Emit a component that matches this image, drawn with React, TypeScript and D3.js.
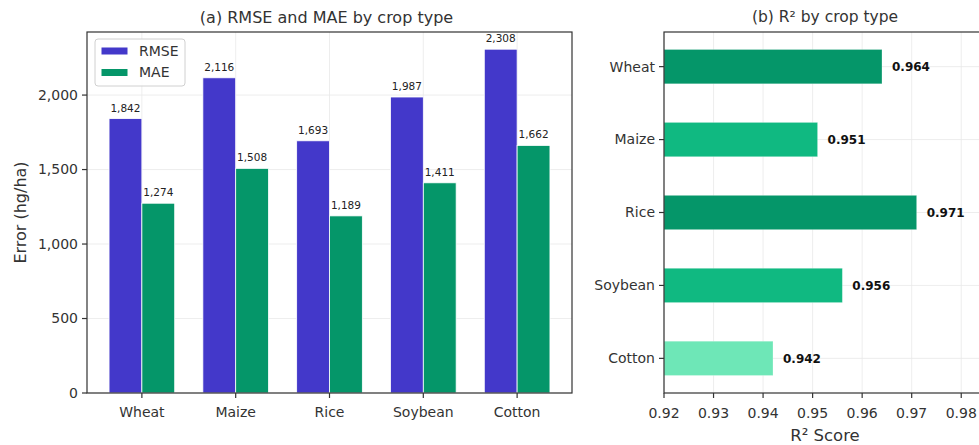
import React from "react";
import * as d3 from "d3";

const crops = ["Wheat", "Maize", "Rice", "Soybean", "Cotton"];
const rmse = [1842, 2116, 1693, 1987, 2308];
const mae = [1274, 1508, 1189, 1411, 1662];
const r2 = [0.964, 0.951, 0.971, 0.956, 0.942];
const r2Colors = ["#059669", "#10b981", "#059669", "#10b981", "#6ee7b7"];
const yTicksLeft = [0, 500, 1000, 1500, 2000];
const xTicksRight = [0.92, 0.93, 0.94, 0.95, 0.96, 0.97, 0.98];

const FONT = "'DejaVu Sans', sans-serif";
const RMSE_C = "#4338ca";
const MAE_C = "#059669";
const GRID = "#e8e8e8";
const SPINE = "#333333";

export default function App() {
  const W = 979, H = 445;
  // left panel
  const L = { x0: 87, x1: 572, y0: 32, y1: 393 };
  const xL = d3.scaleLinear().domain([-0.585, 4.585]).range([L.x0, L.x1]);
  const yL = d3.scaleLinear().domain([0, 2423.4]).range([L.y1, L.y0]);
  const bw = 0.35;
  const fmt = d3.format(",");

  // right panel
  const R = { x0: 664, x1: 986, y0: 32, y1: 393 };
  const xR = d3.scaleLinear().domain([0.92, 0.985]).range([R.x0, R.x1]);
  const yR = d3.scaleLinear().domain([-0.475, 4.475]).range([R.y0, R.y1]);
  const bh = 0.47;

  return (
    <svg width={W} height={H} style={{ position: "absolute", left: 0, top: 0, background: "#fff" }} fontFamily={FONT}>
      <rect x={0} y={0} width={W} height={H} fill="#fff" />
      {/* ===== Left panel ===== */}
      <g>
        {yTicksLeft.map((t) => (
          <line key={"gy" + t} x1={L.x0} x2={L.x1} y1={yL(t)} y2={yL(t)} stroke={GRID} strokeWidth={0.8} />
        ))}
        {crops.map((c, i) => (
          <line key={"gx" + c} x1={xL(i)} x2={xL(i)} y1={L.y0} y2={L.y1} stroke={GRID} strokeWidth={0.8} />
        ))}
        {crops.map((c, i) => (
          <g key={"b" + c}>
            <rect x={xL(i - bw)} y={yL(rmse[i])} width={xL(bw) - xL(0)} height={yL(0) - yL(rmse[i])}
              fill={RMSE_C} stroke="#ffffff" strokeWidth={0.8} />
            <rect x={xL(i)} y={yL(mae[i])} width={xL(bw) - xL(0)} height={yL(0) - yL(mae[i])}
              fill={MAE_C} stroke="#ffffff" strokeWidth={0.8} />
            <text x={xL(i - bw / 2)} y={yL(rmse[i]) - 7} textAnchor="middle" fontSize={10.5} fill="#222">{fmt(rmse[i])}</text>
            <text x={xL(i + bw / 2)} y={yL(mae[i]) - 7} textAnchor="middle" fontSize={10.5} fill="#222">{fmt(mae[i])}</text>
          </g>
        ))}
        <rect x={L.x0} y={L.y0} width={L.x1 - L.x0} height={L.y1 - L.y0} fill="none" stroke={SPINE} strokeWidth={1.2} />
        {yTicksLeft.map((t) => (
          <g key={"ty" + t}>
            <line x1={L.x0 - 5} x2={L.x0} y1={yL(t)} y2={yL(t)} stroke={SPINE} strokeWidth={1.2} />
            <text x={L.x0 - 9} y={yL(t)} dy="0.35em" textAnchor="end" fontSize={14} fill="#333">{fmt(t)}</text>
          </g>
        ))}
        {crops.map((c, i) => (
          <g key={"tx" + c}>
            <line x1={xL(i)} x2={xL(i)} y1={L.y1} y2={L.y1 + 5} stroke={SPINE} strokeWidth={1.2} />
            <text x={xL(i)} y={L.y1 + 19} dy="0.35em" textAnchor="middle" fontSize={14} fill="#333">{c}</text>
          </g>
        ))}
        <text transform={`translate(20,${(L.y0 + L.y1) / 2}) rotate(-90)`} textAnchor="middle" dy="0.35em" fontSize={16} fill="#333">Error (hg/ha)</text>
        <text x={(L.x0 + L.x1) / 2 - 3} y={17} dy="0.35em" textAnchor="middle" fontSize={16} fill="#333">(a) RMSE and MAE by crop type</text>
        {/* legend */}
        <rect x={95} y={39} width={90} height={47} rx={3} fill="#fff" fillOpacity={0.85} stroke="#d0d0d0" strokeWidth={1} />
        <rect x={101.5} y={47.5} width={26} height={7} fill={RMSE_C} />
        <text x={139} y={51} dy="0.35em" fontSize={14} fill="#333">RMSE</text>
        <rect x={101.5} y={69} width={26} height={7} fill={MAE_C} />
        <text x={139} y={72.5} dy="0.35em" fontSize={14} fill="#333">MAE</text>
      </g>

      {/* ===== Right panel ===== */}
      <g>
        {xTicksRight.map((t) => (
          <line key={"rgx" + t} x1={xR(t)} x2={xR(t)} y1={R.y0} y2={R.y1} stroke={GRID} strokeWidth={0.8} />
        ))}
        {crops.map((c, i) => (
          <line key={"rgy" + c} x1={R.x0} x2={R.x1} y1={yR(i)} y2={yR(i)} stroke={GRID} strokeWidth={0.8} />
        ))}
        {crops.map((c, i) => (
          <g key={"rb" + c}>
            <rect x={xR(0.92)} y={yR(i - bh / 2)} width={xR(r2[i]) - xR(0.92)} height={yR(bh) - yR(0)}
              fill={r2Colors[i]} stroke="#ffffff" strokeOpacity={0.3} strokeWidth={0.8} />
            <text x={xR(r2[i]) + 10} y={yR(i)} dy="0.35em" fontSize={12} fontWeight="bold" fill="#111">{r2[i].toFixed(3)}</text>
          </g>
        ))}
        <rect x={R.x0} y={R.y0} width={R.x1 - R.x0} height={R.y1 - R.y0} fill="none" stroke={SPINE} strokeWidth={1.2} />
        {crops.map((c, i) => (
          <g key={"rty" + c}>
            <line x1={R.x0 - 5} x2={R.x0} y1={yR(i)} y2={yR(i)} stroke={SPINE} strokeWidth={1.2} />
            <text x={R.x0 - 9} y={yR(i)} dy="0.35em" textAnchor="end" fontSize={14} fill="#333">{c}</text>
          </g>
        ))}
        {xTicksRight.map((t) => (
          <g key={"rtx" + t}>
            <line x1={xR(t)} x2={xR(t)} y1={R.y1} y2={R.y1 + 5} stroke={SPINE} strokeWidth={1.2} />
            <text x={xR(t)} y={R.y1 + 20} dy="0.35em" textAnchor="middle" fontSize={14} fill="#333">{t.toFixed(2)}</text>
          </g>
        ))}
        <text x={(R.x0 + R.x1) / 2} y={435} dy="0.35em" textAnchor="middle" fontSize={16.5} fill="#333">R² Score</text>
        <text x={(R.x0 + R.x1) / 2} y={17} dy="0.35em" textAnchor="middle" fontSize={15.5} fill="#333">(b) R² by crop type</text>
      </g>
    </svg>
  );
}
